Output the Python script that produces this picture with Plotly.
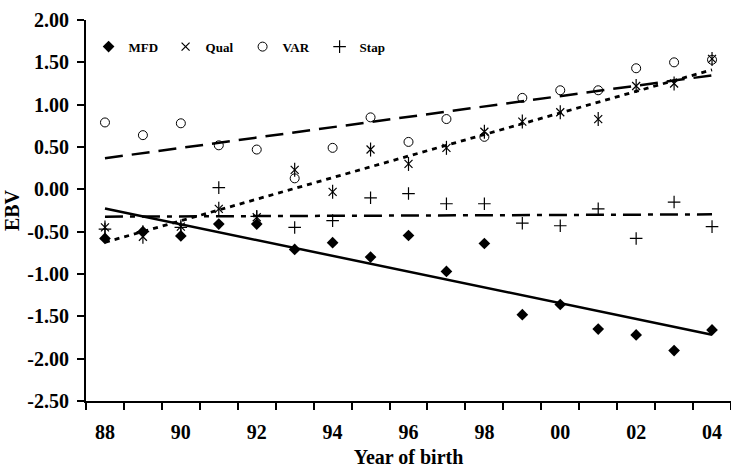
import numpy as np
import plotly.graph_objects as go

years = ["88", "89", "90", "91", "92", "93", "94", "95", "96", "97", "98",
         "99", "00", "01", "02", "03", "04"]
tick_years = ["88", "90", "92", "94", "96", "98", "00", "02", "04"]

mfd = [-0.58, -0.50, -0.55, -0.41, -0.41, -0.71, -0.63, -0.80, -0.545, -0.97,
       -0.64, -1.48, -1.36, -1.65, -1.72, -1.905, -1.66]
qual = [-0.45, -0.56, -0.44, -0.23, -0.33, 0.23, -0.03, 0.47, 0.30, 0.49,
        0.68, 0.80, 0.91, 0.83, 1.22, 1.25, 1.54]
var = [0.79, 0.64, 0.78, 0.52, 0.47, 0.13, 0.49, 0.85, 0.56, 0.83,
       0.62, 1.08, 1.17, 1.17, 1.43, 1.50, 1.53]
stap = [-0.47, -0.50, -0.45, 0.02, -0.32, -0.45, -0.37, -0.10, -0.05, -0.17,
        -0.17, -0.40, -0.43, -0.23, -0.58, -0.15, -0.44]

y_ticks = [-2.5, -2.0, -1.5, -1.0, -0.5, 0.0, 0.5, 1.0, 1.5, 2.0]
y_tick_text = ["-2.50", "-2.00", "-1.50", "-1.00", "-0.50", "0.00", "0.50",
               "1.00", "1.50", "2.00"]

idx = np.arange(len(years))
FONT = "Liberation Serif"
BLACK = "#000000"

fig = go.Figure()

def trend(vals):
    a, b = np.polyfit(idx, vals, 1)
    return [float(a * i + b) for i in idx]

# trend lines (drawn against the labelled category axis x2)
fig.add_trace(go.Scatter(x=idx, y=trend(mfd), mode="lines", showlegend=False, xaxis="x2",
                         line=dict(color=BLACK, width=2.5), hoverinfo="skip"))
fig.add_trace(go.Scatter(x=idx, y=trend(qual), mode="lines", showlegend=False, xaxis="x2",
                         line=dict(color=BLACK, width=2.8, dash="5px,5px"), hoverinfo="skip"))
fig.add_trace(go.Scatter(x=idx, y=trend(var), mode="lines", showlegend=False, xaxis="x2",
                         line=dict(color=BLACK, width=2.5, dash="18px,9px"), hoverinfo="skip"))
fig.add_trace(go.Scatter(x=idx, y=trend(stap), mode="lines", showlegend=False, xaxis="x2",
                         line=dict(color=BLACK, width=2.5, dash="18px,7px,5px,7px"), hoverinfo="skip"))

# markers
fig.add_trace(go.Scatter(x=idx, y=mfd, mode="markers", name="MFD",
                         marker=dict(symbol="diamond", size=9, color=BLACK)))
fig.add_trace(go.Scatter(x=idx, y=qual, mode="markers", name="Qual",
                         marker=dict(symbol="x-thin", size=8, color=BLACK,
                                     line=dict(color=BLACK, width=1.2))))
fig.add_trace(go.Scatter(x=idx, y=var, mode="markers", name="VAR",
                         marker=dict(symbol="circle-open", size=9, color=BLACK,
                                     line=dict(color=BLACK, width=1))))
fig.add_trace(go.Scatter(x=idx, y=stap, mode="markers", name="Stap",
                         marker=dict(symbol="cross-thin", size=9, color=BLACK,
                                     line=dict(color=BLACK, width=1.2))))
fig.add_trace(go.Scatter(x=idx, y=qual, mode="markers", showlegend=False,
                         marker=dict(symbol="line-ns", size=10, color=BLACK,
                                     line=dict(color=BLACK, width=1.2))))

fig.update_layout(
    width=731, height=468,
    margin=dict(l=86, r=0, t=20, b=67),
    paper_bgcolor="white", plot_bgcolor="white",
    font=dict(family=FONT, color=BLACK, size=20, weight="bold"),
    showlegend=True,
    legend=dict(orientation="h", x=0.004, xanchor="left", y=0.93, yanchor="middle",
                bgcolor="rgba(0,0,0,0)", itemwidth=30, entrywidth=32,
                font=dict(family=FONT, size=13, weight="bold")),
    xaxis=dict(range=[-0.5, 16.5], tickmode="array",
               tickvals=[i - 0.5 for i in range(len(years) + 1)],
               ticktext=[""] * (len(years) + 1),
               ticks="outside", ticklen=7, tickwidth=1.5, tickcolor=BLACK,
               showline=True, linecolor=BLACK, linewidth=2,
               showgrid=False, zeroline=False),
    xaxis2=dict(range=[-0.5, 16.5], overlaying="x", anchor="y", side="bottom",
                tickmode="array", tickvals=[i for i in idx if i % 2 == 0], ticktext=tick_years,
                ticks="", showline=False, showgrid=False, zeroline=False,
                ticklabelstandoff=17,
                tickfont=dict(family=FONT, size=20, weight="bold"),
                title=dict(text="Year of birth", standoff=7,
                           font=dict(family=FONT, size=20, weight="bold"))),
    yaxis=dict(range=[-2.5, 2.0], tickmode="array", tickvals=y_ticks, ticktext=y_tick_text,
               ticks="outside", ticklen=7, tickwidth=1.5, tickcolor=BLACK,
               showline=True, linecolor=BLACK, linewidth=2,
               showgrid=False, zeroline=False, ticklabelstandoff=4,
               tickfont=dict(family=FONT, size=20, weight="bold"),
               title=dict(text="EBV", standoff=2,
                          font=dict(family=FONT, size=20, weight="bold"))),
)

fig.write_html("out.html")
